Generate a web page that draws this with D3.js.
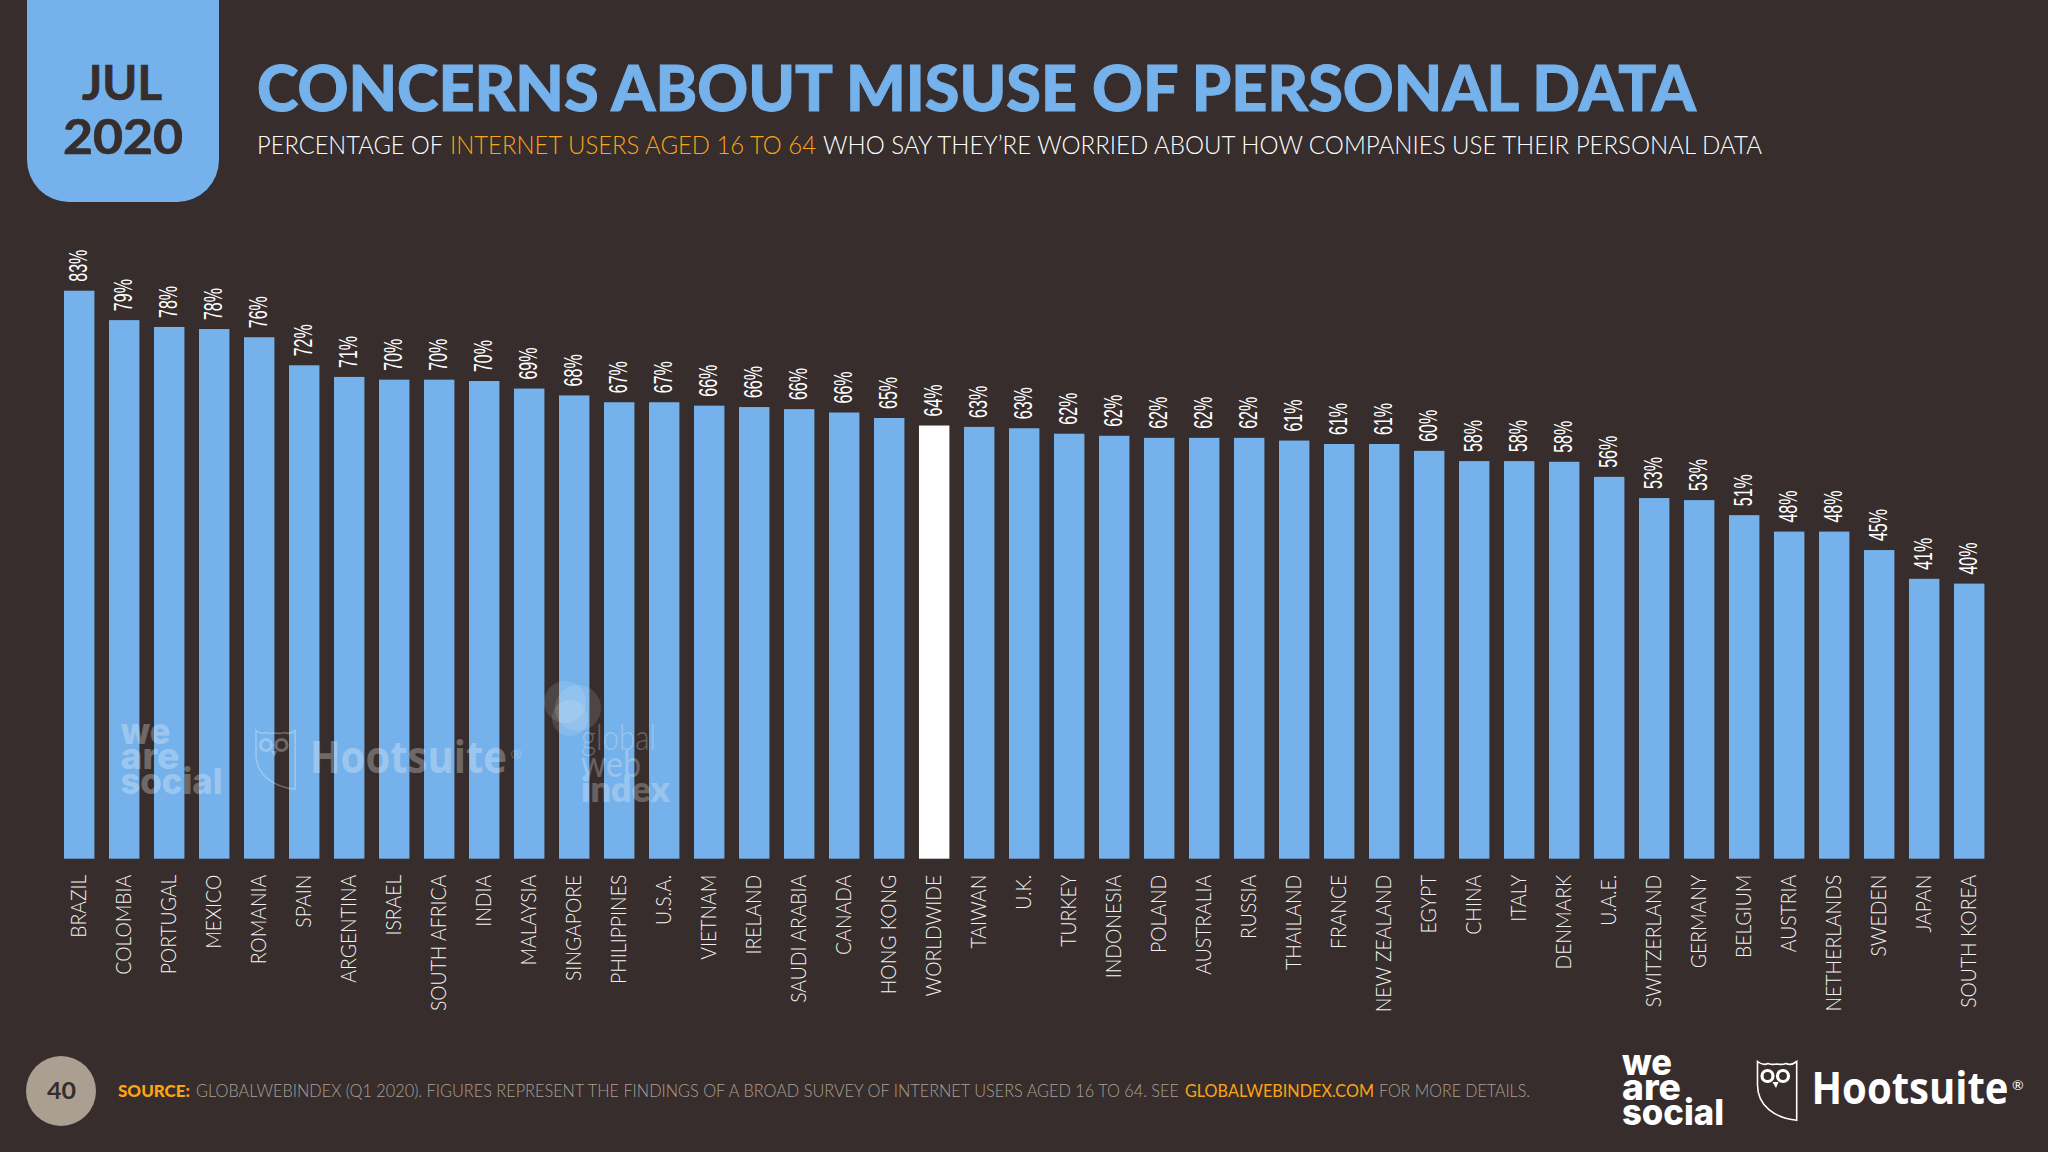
<!DOCTYPE html>
<html>
<head>
<meta charset="utf-8">
<script src="https://cdn.jsdelivr.net/npm/d3@7"></script>
<style>
  html, body { margin: 0; padding: 0; background: #362d2c; }
  svg { display: block; }
</style>
</head>
<body>
<svg id="chart" width="2048" height="1152"></svg>
<script>
// Countries, in chart order
var countries = ["BRAZIL", "COLOMBIA", "PORTUGAL", "MEXICO", "ROMANIA", "SPAIN", "ARGENTINA", "ISRAEL",
  "SOUTH AFRICA", "INDIA", "MALAYSIA", "SINGAPORE", "PHILIPPINES", "U.S.A.", "VIETNAM", "IRELAND",
  "SAUDI ARABIA", "CANADA", "HONG KONG", "WORLDWIDE", "TAIWAN", "U.K.", "TURKEY", "INDONESIA", "POLAND",
  "AUSTRALIA", "RUSSIA", "THAILAND", "FRANCE", "NEW ZEALAND", "EGYPT", "CHINA", "ITALY", "DENMARK",
  "U.A.E.", "SWITZERLAND", "GERMANY", "BELGIUM", "AUSTRIA", "NETHERLANDS", "SWEDEN", "JAPAN", "SOUTH KOREA"];

// Bar heights
var barValues = [83.0, 78.7, 77.7, 77.4, 76.2, 72.1, 70.4, 70.0, 70.0, 69.8, 68.7, 67.7, 66.7, 66.7, 66.2, 66.0,
  65.7, 65.2, 64.4, 63.3, 63.1, 62.9, 62.1, 61.8, 61.5, 61.5, 61.5, 61.1, 60.6, 60.6, 59.6, 58.1, 58.1, 58.0,
  55.8, 52.7, 52.4, 50.2, 47.8, 47.8, 45.1, 40.9, 40.2];

// Printed labels
var printedValues = [83, 79, 78, 78, 76, 72, 71, 70, 70, 70, 69, 68, 67, 67, 66, 66, 66, 66, 65, 64, 63, 63, 62, 62,
  62, 62, 62, 61, 61, 61, 60, 58, 58, 58, 56, 53, 53, 51, 48, 48, 45, 41, 40];

var highlighted = "WORLDWIDE";

var blue = "#75b1ea";
var dark = "#362d2c";
var orange = "#fba414";
var grey = "#a9a196";
var mainFont = "Lato, 'Open Sans', sans-serif";

var svg = d3.select("#chart");

// Background
svg.append("rect").attr("width", 2048).attr("height", 1152).attr("fill", dark);

// Helper for the plain text pieces, len squeezes it to the reference width
function addText(parent, x, y, str, size, weight, fill, len, family) {
  var t = parent.append("text")
    .attr("x", x).attr("y", y)
    .attr("font-family", family || mainFont)
    .attr("font-size", size)
    .attr("font-weight", weight)
    .attr("fill", fill)
    .text(str);
  if (len) {
    t.attr("textLength", len).attr("lengthAdjust", "spacingAndGlyphs");
  }
  return t;
}

// Lato's heaviest cut is still lighter than the reference, so thicken it a bit
function thicken(t, width) {
  t.attr("stroke", t.attr("fill")).attr("stroke-width", width);
}

// SCALES
var x = d3.scaleBand().domain(countries).range([64, 1984.4]).paddingInner(0.324).paddingOuter(0);
var y = d3.scaleLinear().domain([0, 83]).range([858.7, 290.7]);

// BARS
svg.append("g").selectAll("rect")
  .data(countries)
  .join("rect")
  .attr("x", d => x(d))
  .attr("y", (d, i) => y(barValues[i]))
  .attr("width", x.bandwidth())
  .attr("height", (d, i) => y(0) - y(barValues[i]))
  .attr("fill", d => d === highlighted ? "#ffffff" : blue);

// VALUE LABELS
svg.append("g").selectAll("text")
  .data(countries)
  .join("text")
  .attr("transform", (d, i) => "translate(" + (x(d) + x.bandwidth() / 2 + 8) + "," + (y(barValues[i]) - 9) + ") rotate(-90)")
  .attr("font-family", "'Liberation Sans Narrow', 'Liberation Sans', sans-serif")
  .attr("font-size", 26)
  .attr("fill", "#ffffff")
  .attr("textLength", 32)
  .attr("lengthAdjust", "spacingAndGlyphs")
  .text((d, i) => printedValues[i] + "%");

// CATEGORY AXIS
var axis = svg.append("g")
  .attr("transform", "translate(0," + y(0) + ")")
  .call(d3.axisBottom(x).tickSize(0));
axis.select(".domain").remove();
axis.selectAll("text")
  .attr("transform", "rotate(-90)")
  .attr("text-anchor", "end")
  .attr("x", -16)
  .attr("y", 6.7)
  .attr("dy", 0)
  .attr("font-family", mainFont)
  .attr("font-size", 22)
  .attr("font-weight", 300)
  .attr("fill", "#f4f2ef")
  .each(function() {
    // Futura runs narrower than Lato
    d3.select(this)
      .attr("textLength", this.getComputedTextLength() * 0.88)
      .attr("lengthAdjust", "spacingAndGlyphs");
  });

// DATE BADGE
svg.append("path")
  .attr("d", "M27,0 H219 V160 A42,42 0 0 1 177,202 H69 A42,42 0 0 1 27,160 Z")
  .attr("fill", blue);
thicken(addText(svg, 82, 100, "JUL", 47, 700, dark, 80), 0.7);
thicken(addText(svg, 63, 154, "2020", 47, 700, dark, 120), 0.7);

// TITLE
thicken(addText(svg, 257, 110.5, "CONCERNS ABOUT MISUSE OF PERSONAL DATA", 62, 900, blue, 1439), 1);

// SUBTITLE
addText(svg, 257, 154, "PERCENTAGE OF", 26, 300, "#ffffff", 186);
addText(svg, 450, 154, "INTERNET USERS AGED 16 TO 64", 26, 300, orange, 366);
addText(svg, 823, 154, "WHO SAY THEY\u2019RE WORRIED ABOUT HOW COMPANIES USE THEIR PERSONAL DATA", 26, 300, "#ffffff", 939);

// FOOTER
svg.append("circle").attr("cx", 61).attr("cy", 1091).attr("r", 35).attr("fill", "#ab9f91");
addText(svg, 47, 1099, "40", 23, 700, dark, 29);
addText(svg, 118, 1097, "SOURCE:", 17, 900, orange, 72);
addText(svg, 196, 1097, "GLOBALWEBINDEX (Q1 2020). FIGURES REPRESENT THE FINDINGS OF A BROAD SURVEY OF INTERNET USERS AGED 16 TO 64. SEE", 17, 300, grey, 983);
addText(svg, 1185, 1097, "GLOBALWEBINDEX.COM", 17, 400, orange, 189);
addText(svg, 1379, 1097, "FOR MORE DETAILS.", 17, 300, grey, 151);

// LOGOS, drawn once in the footer and once as the watermark over the bars
function drawLogos(parent) {
  var logoFont = "Inter, Lato, sans-serif";
  addText(parent, 1622, 1075, "we", 36, 800, "#ffffff", 50, logoFont);
  addText(parent, 1622, 1100, "are", 36, 800, "#ffffff", 59, logoFont);
  addText(parent, 1622, 1125, "social", 36, 800, "#ffffff", 102, logoFont);

  // Owl outline with the scalloped ears
  parent.append("path")
    .attr("d", "M1757.5,1061.5 Q1763,1066 1768,1063.5 Q1772,1065 1777,1064 Q1782,1065 1786,1063.5 Q1791,1066 1796.7,1061.5 V1120.3 C1775,1118 1757.5,1106 1757.5,1085 Z")
    .attr("fill", "none")
    .attr("stroke", "#ffffff")
    .attr("stroke-width", 1.6);
  parent.append("circle").attr("cx", 1767.5).attr("cy", 1076).attr("r", 5.5).attr("fill", "none").attr("stroke", "#ffffff").attr("stroke-width", 3.2);
  parent.append("circle").attr("cx", 1783).attr("cy", 1076).attr("r", 5.5).attr("fill", "none").attr("stroke", "#ffffff").attr("stroke-width", 3.2);
  parent.append("path").attr("d", "M1772.5,1082 L1778.5,1082 L1776,1088 Z").attr("fill", "#ffffff");

  addText(parent, 1811.5, 1104, "Hootsuite", 45, 700, "#ffffff", 197, "'Open Sans', Lato, sans-serif");
  addText(parent, 2012, 1090, "\u00ae", 14, 400, "#ffffff");
}

drawLogos(svg.append("g"));
drawLogos(svg.append("g").attr("transform", "translate(-1501.5,-331)").attr("opacity", 0.28));

// Globalwebindex watermark, circles build up where they overlap
var gwi = svg.append("g");
gwi.append("circle").attr("cx", 565).attr("cy", 702).attr("r", 21).attr("fill", "#ffffff").attr("fill-opacity", 0.12);
gwi.append("circle").attr("cx", 578).attr("cy", 708).attr("r", 23).attr("fill", "#ffffff").attr("fill-opacity", 0.12);
gwi.append("circle").attr("cx", 570).attr("cy", 718).attr("r", 18).attr("fill", "#ffffff").attr("fill-opacity", 0.12);
var gwiText = svg.append("g").attr("opacity", 0.25);
addText(gwiText, 581, 750, "global", 36, 300, "#ffffff", 75);
addText(gwiText, 581, 777, "web", 36, 400, "#ffffff", 60);
addText(gwiText, 581, 802, "index", 36, 800, "#ffffff", 89);
</script>
</body>
</html>
